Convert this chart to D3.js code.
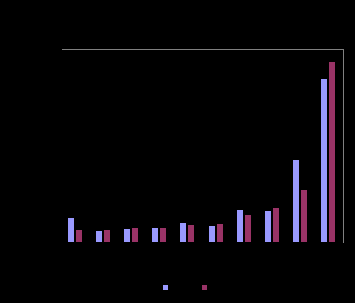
<!DOCTYPE html>
<html>
<head>
<meta charset="utf-8">
<script src="https://cdn.jsdelivr.net/npm/d3@7"></script>
<style>
  html, body { margin: 0; padding: 0; background: #000; }
  svg { display: block; }
</style>
</head>
<body>
<svg id="chart" width="355" height="303"></svg>
<script>
const categories = ["1", "2", "3", "4", "5", "6", "7", "8", "9", "10"];
const seriesNames = ["Series1", "Series2"];
const series1 = [12.4, 5.7, 6.7, 7.3, 9.8, 8.3, 16.6, 16.1, 42.5, 84.5];
const series2 = [6.2, 6.2, 7.3, 7.3, 8.8, 9.3, 14.0, 17.6, 26.9, 93.3];
const colors = ["#9999FF", "#993366"];

(function () {
const svg = d3.select("#chart");
const pL = 62, pR = 343, pT = 49, pB = 242;

const x0 = d3.scaleBand().domain(categories).range([pL, pR])
  .paddingInner(0.5).paddingOuter(0.25).align(0.43);
const x1 = d3.scaleBand().domain(seriesNames).range([0, x0.bandwidth()])
  .paddingInner(0.25).paddingOuter(0);
const y = d3.scaleLinear().domain([0, 100]).range([pB, pT]);

const data = categories.map((c, i) => ({ cat: c, vals: [series1[i], series2[i]] }));

svg.append("rect").attr("width", 355).attr("height", 303).attr("fill", "#000");

const g = svg.append("g");
g.selectAll("g.cat").data(data).join("g")
  .attr("class", "cat")
  .selectAll("rect").data(d => d.vals.map((v, j) => ({ cat: d.cat, s: seriesNames[j], v, j })))
  .join("rect")
  .attr("x", d => Math.round(x0(d.cat) + x1(d.s)))
  .attr("width", Math.round(x1.bandwidth()))
  .attr("y", d => Math.round(y(d.v)))
  .attr("height", d => Math.round(y(0)) - Math.round(y(d.v)))
  .attr("fill", d => colors[d.j]);

// plot frame (top and right in grey)
svg.append("line").attr("x1", pL).attr("x2", pR + 0.5).attr("y1", pT + 0.5).attr("y2", pT + 0.5)
  .attr("stroke", "#808080").attr("stroke-width", 1);
svg.append("line").attr("x1", pR + 0.5).attr("x2", pR + 0.5).attr("y1", pT).attr("y2", pB + 1)
  .attr("stroke", "#808080").attr("stroke-width", 1);

// legend
const legendX = [163, 202];
const legend = svg.append("g");
seriesNames.forEach((s, i) => {
  legend.append("rect").attr("x", legendX[i]).attr("y", 285).attr("width", 5).attr("height", 5)
    .attr("fill", colors[i]);
});
})();
</script>
</body>
</html>
